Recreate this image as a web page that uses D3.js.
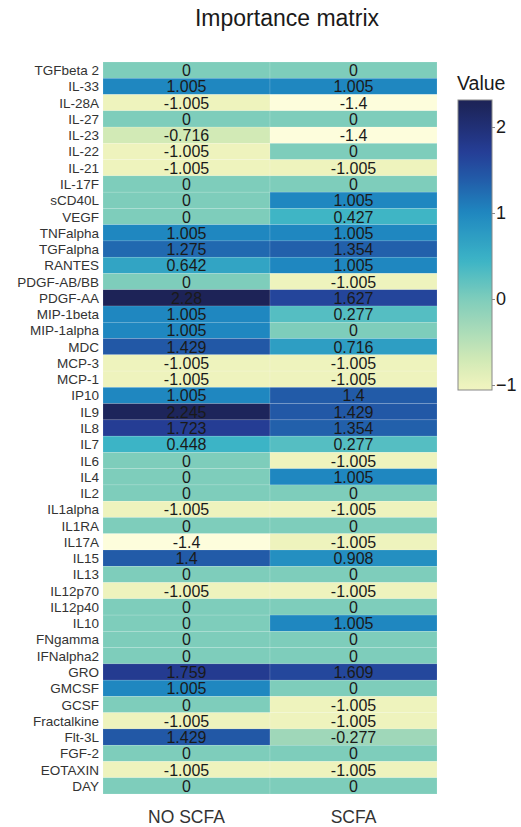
<!DOCTYPE html>
<html>
<head>
<meta charset="utf-8">
<script src="https://cdn.jsdelivr.net/npm/d3@7"></script>
<style>
  body { margin: 0; background: #fff; }
  text { font-family: "Liberation Sans", Arial, sans-serif; fill: #1a1a1a; }
</style>
</head>
<body>
<div id="chart"></div>
<script>
var rows = ["TGFbeta 2", "IL-33", "IL-28A", "IL-27", "IL-23", "IL-22", "IL-21", "IL-17F",
    "sCD40L", "VEGF", "TNFalpha", "TGFalpha", "RANTES", "PDGF-AB/BB", "PDGF-AA",
    "MIP-1beta", "MIP-1alpha", "MDC", "MCP-3", "MCP-1", "IP10", "IL9", "IL8", "IL7",
    "IL6", "IL4", "IL2", "IL1alpha", "IL1RA", "IL17A", "IL15", "IL13", "IL12p70",
    "IL12p40", "IL10", "FNgamma", "IFNalpha2", "GRO", "GMCSF", "GCSF", "Fractalkine",
    "Flt-3L", "FGF-2", "EOTAXIN", "DAY"];

var columns = ["NO SCFA", "SCFA"];

var noScfa = [0, 1.005, -1.005, 0, -0.716, -1.005, -1.005, 0, 0, 0, 1.005, 1.275, 0.642, 0,
    2.28, 1.005, 1.005, 1.429, -1.005, -1.005, 1.005, 2.245, 1.723, 0.448, 0, 0, 0,
    -1.005, 0, -1.4, 1.4, 0, -1.005, 0, 0, 0, 0, 1.759, 1.005, 0, -1.005, 1.429, 0, -1.005, 0];

var scfa = [0, 1.005, -1.4, 0, -1.4, 0, -1.005, 0, 1.005, 0.427, 1.005, 1.354, 1.005, -1.005,
    1.627, 0.277, 0, 0.716, -1.005, -1.005, 1.4, 1.429, 1.354, 0.277, -1.005, 1.005, 0,
    -1.005, 0, -1.005, 0.908, 0, -1.005, 0, 1.005, 0, 0, 1.609, 0, -1.005, -1.005, -0.277,
    0, -1.005, 0];

var legendTicks = [-1, 0, 1, 2];

var width = 521, height = 827;

var svg = d3.select("#chart").append("svg")
    .attr("width", width)
    .attr("height", height);

// colour ramp, yellow -> green -> blue
var color = d3.scaleLinear()
    .domain([-1.4, -1.005, -0.716, -0.277, 0, 0.448, 1.005, 1.4, 1.7, 2.28])
    .range(["#fdfddc", "#eef3bd", "#d2eab6", "#9fd7b9", "#7ecdbb", "#3cb4c6",
            "#1f87c0", "#225ba8", "#253e97", "#1d2357"])
    .clamp(true);

var x = d3.scaleBand().domain(columns).range([103, 437]);
var y = d3.scaleBand().domain(rows).range([62, 794]);

var cells = [];
rows.forEach(function (r, i) {
    cells.push({ row: r, col: "NO SCFA", value: noScfa[i] });
    cells.push({ row: r, col: "SCFA", value: scfa[i] });
});

svg.append("text")
    .attr("x", 287)
    .attr("y", 26)
    .attr("text-anchor", "middle")
    .style("font-size", "23px")
    .text("Importance matrix");

svg.selectAll("rect.cell")
    .data(cells)
    .enter()
    .append("rect")
    .attr("class", "cell")
    .attr("x", function (d) { return x(d.col); })
    .attr("y", function (d) { return y(d.row); })
    .attr("width", x.bandwidth())
    .attr("height", y.bandwidth())
    .attr("fill", function (d) { return color(d.value); })
    .attr("stroke", "rgba(255,255,255,0.25)")
    .attr("stroke-width", 0.5);

svg.selectAll("text.val")
    .data(cells)
    .enter()
    .append("text")
    .attr("class", "val")
    .attr("x", function (d) { return x(d.col) + x.bandwidth() / 2; })
    .attr("y", function (d) { return y(d.row) + y.bandwidth() / 2 + 6; })
    .attr("text-anchor", "middle")
    .style("font-size", "16px")
    .text(function (d) { return String(d.value); });

// row labels
svg.selectAll("text.row")
    .data(rows)
    .enter()
    .append("text")
    .attr("class", "row")
    .attr("x", 99)
    .attr("y", function (d) { return y(d) + y.bandwidth() / 2 + 5; })
    .attr("text-anchor", "end")
    .style("font-size", "13.5px")
    .style("fill", "#333")
    .text(function (d) { return d; });

// column labels
svg.selectAll("text.col")
    .data(columns)
    .enter()
    .append("text")
    .attr("class", "col")
    .attr("x", function (d) { return x(d) + x.bandwidth() / 2; })
    .attr("y", 823)
    .attr("text-anchor", "middle")
    .style("font-size", "17.5px")
    .style("fill", "#333")
    .text(function (d) { return d; });

// legend colour bar
var legY = d3.scaleLinear().domain([-1, 2]).range([385, 127]);
var barTop = 100, barBottom = 390;
var vTop = legY.invert(barTop), vBottom = legY.invert(barBottom);

var grad = svg.append("defs").append("linearGradient")
    .attr("id", "legendGrad")
    .attr("x1", 0).attr("y1", 1).attr("x2", 0).attr("y2", 0);
d3.range(0, 1.0001, 0.02).forEach(function (t) {
    grad.append("stop")
        .attr("offset", t)
        .attr("stop-color", color(vBottom + t * (vTop - vBottom)));
});

svg.append("text")
    .attr("x", 457)
    .attr("y", 90)
    .style("font-size", "19.5px")
    .text("Value");

svg.append("rect")
    .attr("x", 458)
    .attr("y", barTop)
    .attr("width", 34)
    .attr("height", barBottom - barTop)
    .attr("fill", "url(#legendGrad)")
    .attr("stroke", "#888")
    .attr("stroke-width", 1);

var axis = svg.append("g")
    .attr("transform", "translate(492,0)")
    .call(d3.axisRight(legY).tickValues(legendTicks).tickSize(3).tickFormat(d3.format("")));
axis.select(".domain").remove();
axis.selectAll("line").attr("stroke", "#888");
axis.selectAll("text")
    .attr("x", 4)
    .style("font-size", "18px")
    .style("font-family", "Liberation Sans, Arial, sans-serif")
    .attr("fill", "#1a1a1a")
    .text(function (d) { return d < 0 ? "\u2212" + Math.abs(d) : d; });
</script>
</body>
</html>
